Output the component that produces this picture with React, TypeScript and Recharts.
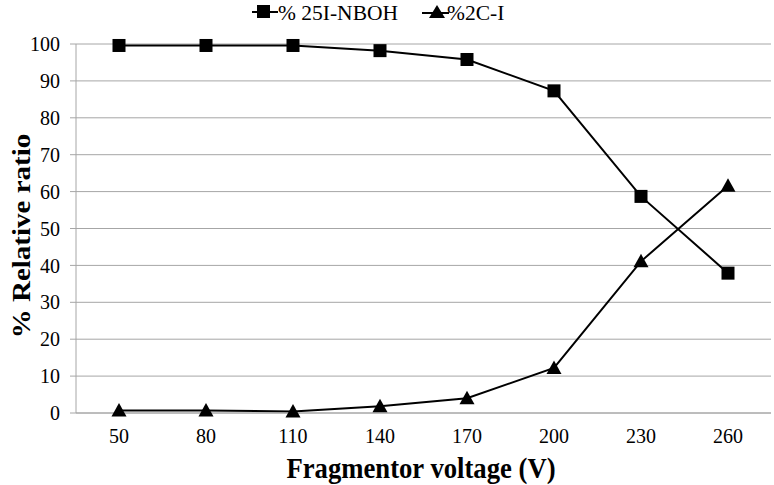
import React from 'react';
import { LineChart, Line, XAxis, YAxis, CartesianGrid } from 'recharts';

const voltages = [50, 80, 110, 140, 170, 200, 230, 260];
const nboh = [99.6, 99.6, 99.6, 98.2, 95.8, 87.3, 58.7, 37.9];
const c2i = [0.7, 0.7, 0.4, 1.8, 4.0, 12.2, 41.1, 61.6];
const yTicks = [0, 10, 20, 30, 40, 50, 60, 70, 80, 90, 100];
const seriesNames = ['% 25I-NBOH', '%2C-I'];

const data = voltages.map((v, i) => ({ v: String(v), nboh: nboh[i], c2i: c2i[i] }));

const FONT = 'Liberation Serif';
const GRID = '#a6a6a6';

const Square = (props: any) => {
  const { cx, cy, index } = props;
  if (cx == null || cy == null) return <g key={`s${index}`} />;
  return <rect key={`s${index}`} x={cx - 6.5} y={cy - 6.5} width={13} height={13} fill="#000" />;
};

const Triangle = (props: any) => {
  const { cx, cy, index } = props;
  if (cx == null || cy == null) return <g key={`t${index}`} />;
  return <polygon key={`t${index}`} points={`${cx},${cy - 7.5} ${cx - 7.5},${cy + 6} ${cx + 7.5},${cy + 6}`} fill="#000" />;
};

const YTitle = () => (
  <text
    transform="translate(30,236) rotate(-90) scale(1,0.88)"
    textAnchor="middle"
    fontFamily={FONT}
    fontSize={29}
    fontWeight="bold"
    fill="#000"
  >
    % Relative ratio
  </text>
);

const XTitle = () => (
  <text
    transform="translate(421,478) scale(0.89,1)"
    textAnchor="middle"
    fontFamily={FONT}
    fontSize={30}
    fontWeight="bold"
    fill="#000"
  >
    Fragmentor voltage (V)
  </text>
);

const LegendOverlay = () => (
  <svg width={774} height={30} style={{ position: 'absolute', left: 0, top: 0 }}>
    <line x1={252} y1={12} x2={278} y2={12} stroke="#000" strokeWidth={2} />
    <rect x={257} y={5} width={13} height={13} fill="#000" />
    <text x={278} y={20} fontFamily={FONT} fontSize={21.5} fill="#000">{seriesNames[0]}</text>
    <line x1={422} y1={13} x2={449} y2={13} stroke="#000" strokeWidth={2} />
    <polygon points="437,5 429,18 445,18" fill="#000" />
    <text x={447} y={20} fontFamily={FONT} fontSize={21.5} fill="#000">{seriesNames[1]}</text>
  </svg>
);

export default function App() {
  return (
    <div style={{ position: 'absolute', left: 0, top: 0, width: 774, height: 485, background: '#fff' }}>
      <LineChart width={774} height={485} data={data} margin={{ top: 44, right: 3, bottom: 0, left: 0 }}>
        <CartesianGrid vertical={false} stroke={GRID} strokeWidth={1} />
        <XAxis
          dataKey="v"
          height={72}
          padding={{ left: 43, right: 43 }}
          axisLine={{ stroke: GRID }}
          tickLine={false}
          tickSize={6}
          tickMargin={10}
          tick={{ fontFamily: FONT, fontSize: 20, fill: '#000' }}
        />
        <YAxis
          width={76}
          domain={[0, 100]}
          ticks={yTicks}
          interval={0}
          axisLine={{ stroke: GRID }}
          tickLine={{ stroke: GRID }}
          tickSize={6}
          tickMargin={10}
          tick={{ fontFamily: FONT, fontSize: 20, fill: '#000' }}
        />
        <Line type="linear" dataKey="nboh" name={seriesNames[0]} stroke="#000" strokeWidth={2} dot={<Square />} activeDot={false} isAnimationActive={false} />
        <Line type="linear" dataKey="c2i" name={seriesNames[1]} stroke="#000" strokeWidth={2} dot={<Triangle />} activeDot={false} isAnimationActive={false} />
        <YTitle />
        <XTitle />
      </LineChart>
      <LegendOverlay />
    </div>
  );
}
